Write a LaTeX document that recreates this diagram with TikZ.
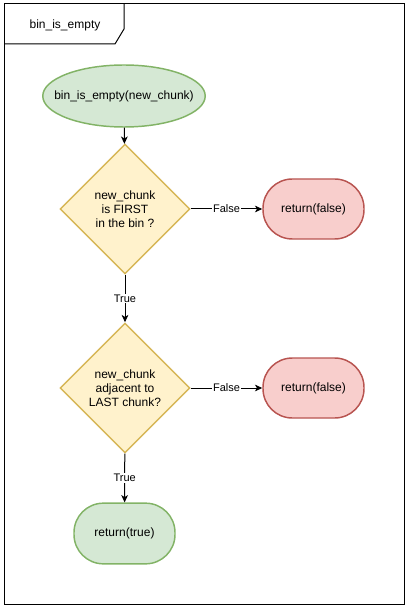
\documentclass[tikz,border=0pt]{standalone}
\usepackage{fontspec}
\setmainfont{Liberation Sans}
\usetikzlibrary{shapes.geometric, arrows.meta}
\definecolor{greenfill}{HTML}{D5E8D4}
\definecolor{greenline}{HTML}{82B366}
\definecolor{yellowfill}{HTML}{FFF2CC}
\definecolor{yellowline}{HTML}{D6B656}
\definecolor{redfill}{HTML}{F8CECC}
\definecolor{redline}{HTML}{B85450}

\begin{document}
\begin{tikzpicture}[x=0.75pt,y=0.75pt,yscale=-1,xscale=1,
	every node/.style={font=\fontsize{9}{10.5}\selectfont},
	startnode/.style={ellipse, draw=greenline, fill=greenfill, line width=1.1pt, inner xsep=-9.2pt, inner ysep=0pt, minimum width=121.5pt, minimum height=46.5pt},
	decision/.style={diamond, draw=yellowline, fill=yellowfill, line width=1.1pt, inner sep=0pt, minimum width=97.5pt, minimum height=97.5pt, align=center},
	endtrue/.style={rectangle, rounded corners=22pt, draw=greenline, fill=greenfill, line width=1.1pt, minimum width=75.75pt, minimum height=45.5pt},
	endfalse/.style={rectangle, rounded corners=22pt, draw=redline, fill=redfill, line width=1.1pt, minimum width=75.75pt, minimum height=45pt},
	flow/.style={-{Stealth[length=5.5pt,width=5pt,inset=1.5pt]}, line width=0.75pt},
	edgelabel/.style={fill=white, inner sep=0.75pt, font=\fontsize{8.25}{9}\selectfont}]
	\useasboundingbox (0,0) rectangle (409,609);

	%Shape: Frame with tab
	\draw [line width=0.75pt] (4,4) rectangle (404,604);
	\draw [line width=0.75pt] (4,44) -- (115,44) -- (124,29) -- (124,4);
	% Text Node
	\node (title) at (65,25) {bin\_is\_empty};

	%Shape: Ellipse
	\node [startnode] (start) at (124,96) {bin\_is\_empty(new\_chunk)};
	%Shape: Diamond
	\node [decision] (first) at (125,209) {new\_chunk\\is FIRST\\in the bin ?};
	\node [decision] (last) at (125,388) {new\_chunk\\adjacent to\\LAST chunk?};
	%Shape: Terminators
	\node [endfalse] (nofirst) at (313.5,209) {return(false)};
	\node [endfalse] (nolast) at (313.5,388) {return(false)};
	\node [endtrue] (empty) at (124.5,533.5) {return(true)};

	%Straight Lines
	\draw [flow] (start) -- (first);
	\draw [flow] (first) -- node [edgelabel] {False} (nofirst);
	\draw [flow] (first) -- node [edgelabel] {True} (last);
	\draw [flow] (last) -- node [edgelabel] {False} (nolast);
	\draw [flow] (last) -- node [edgelabel] {True} (empty);

\end{tikzpicture}
\end{document}
